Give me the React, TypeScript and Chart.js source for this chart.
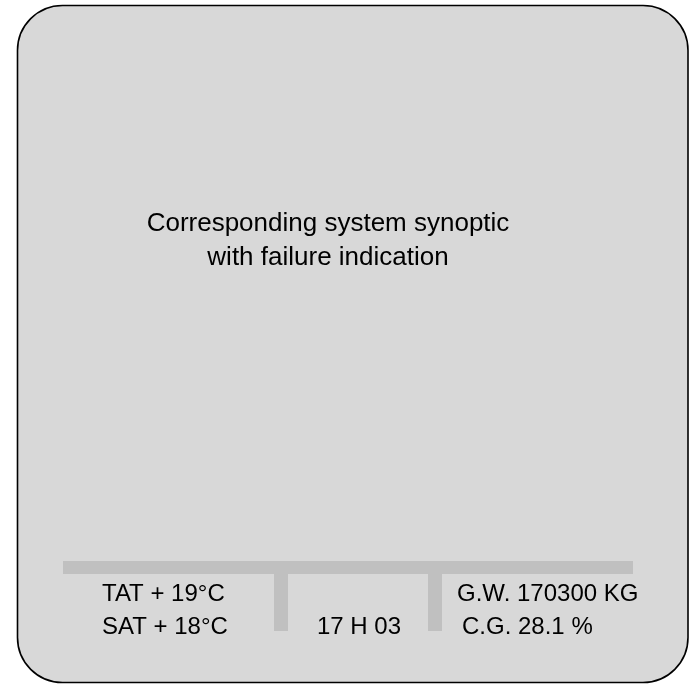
import React, { useEffect, useRef } from "react";
import { Chart, registerables } from "chart.js";

Chart.register(...registerables);

const titleLines: string[] = ["Corresponding system synoptic", "with failure indication"];
const leftLines: string[] = ["TAT + 19°C", "SAT + 18°C"];
const centerLines: string[] = ["", "17 H 03"];
const rightLines: string[] = ["G.W. 170300 KG", "C.G. 28.1 %"];

const W = 692;
const H = 684;

const panelPlugin = {
  id: "panel",
  beforeDatasetsDraw(chart: any) {
    const { ctx, scales } = chart;
    const x = scales.x, y = scales.y;
    const l = x.getPixelForValue(17.5), r = x.getPixelForValue(688);
    const t = y.getPixelForValue(5.5), b = y.getPixelForValue(682.5);
    const rad = 45;
    ctx.save();
    ctx.beginPath();
    ctx.moveTo(l + rad, t);
    ctx.lineTo(r - rad, t);
    ctx.arcTo(r, t, r, t + rad, rad);
    ctx.lineTo(r, b - rad);
    ctx.arcTo(r, b, r - rad, b, rad);
    ctx.lineTo(l + rad, b);
    ctx.arcTo(l, b, l, b - rad, rad);
    ctx.lineTo(l, t + rad);
    ctx.arcTo(l, t, l + rad, t, rad);
    ctx.closePath();
    ctx.fillStyle = "#d8d8d8";
    ctx.fill();
    ctx.lineWidth = 1.6;
    ctx.strokeStyle = "#000";
    ctx.stroke();
    ctx.restore();
  },
  afterDatasetsDraw(chart: any) {
    const { ctx, scales } = chart;
    const x = scales.x, y = scales.y;
    ctx.save();
    ctx.fillStyle = "#000";
    ctx.textBaseline = "alphabetic";
    ctx.font = '26px "Liberation Sans", Arial, sans-serif';
    ctx.textAlign = "center";
    titleLines.forEach((s, i) => {
      ctx.fillText(s, x.getPixelForValue(328), y.getPixelForValue(231 + i * 34));
    });
    ctx.font = '24px "Liberation Sans", Arial, sans-serif';
    ctx.textAlign = "left";
    leftLines.forEach((s, i) => {
      ctx.fillText(s, x.getPixelForValue(102), y.getPixelForValue(601 + i * 33));
    });
    centerLines.forEach((s, i) => {
      if (s) ctx.fillText(s, x.getPixelForValue(317), y.getPixelForValue(601 + i * 33));
    });
    rightLines.forEach((s, i) => {
      ctx.fillText(s, x.getPixelForValue(i === 0 ? 457 : 462), y.getPixelForValue(601 + i * 33));
    });
    ctx.restore();
  },
};

export default function App() {
  const ref = useRef<HTMLCanvasElement>(null);
  useEffect(() => {
    const grey = "#c0c0c0";
    const seg = (pts: { x: number; y: number }[], w: number) => ({
      data: pts,
      borderColor: grey,
      borderWidth: w,
      pointRadius: 0,
      borderCapStyle: "butt" as const,
      showLine: true,
      fill: false,
    });
    const chart = new Chart(ref.current!, {
      type: "scatter",
      data: {
        datasets: [
          seg([{ x: 63, y: 567.5 }, { x: 633, y: 567.5 }], 13),
          seg([{ x: 281, y: 574 }, { x: 281, y: 631 }], 14),
          seg([{ x: 435, y: 574 }, { x: 435, y: 631 }], 14),
        ],
      },
      options: {
        responsive: false,
        animation: false,
        layout: { padding: 0 },
        plugins: { legend: { display: false }, tooltip: { enabled: false } },
        scales: {
          x: { type: "linear", min: 0, max: W, display: false },
          y: { type: "linear", min: 0, max: H, reverse: true, display: false },
        },
      },
      plugins: [panelPlugin],
    });
    return () => chart.destroy();
  }, []);
  return (
    <div style={{ position: "fixed", left: 0, top: 0, width: W, height: H, background: "#fff" }}>
      <canvas ref={ref} width={W} height={H} style={{ width: W, height: H }} />
    </div>
  );
}
